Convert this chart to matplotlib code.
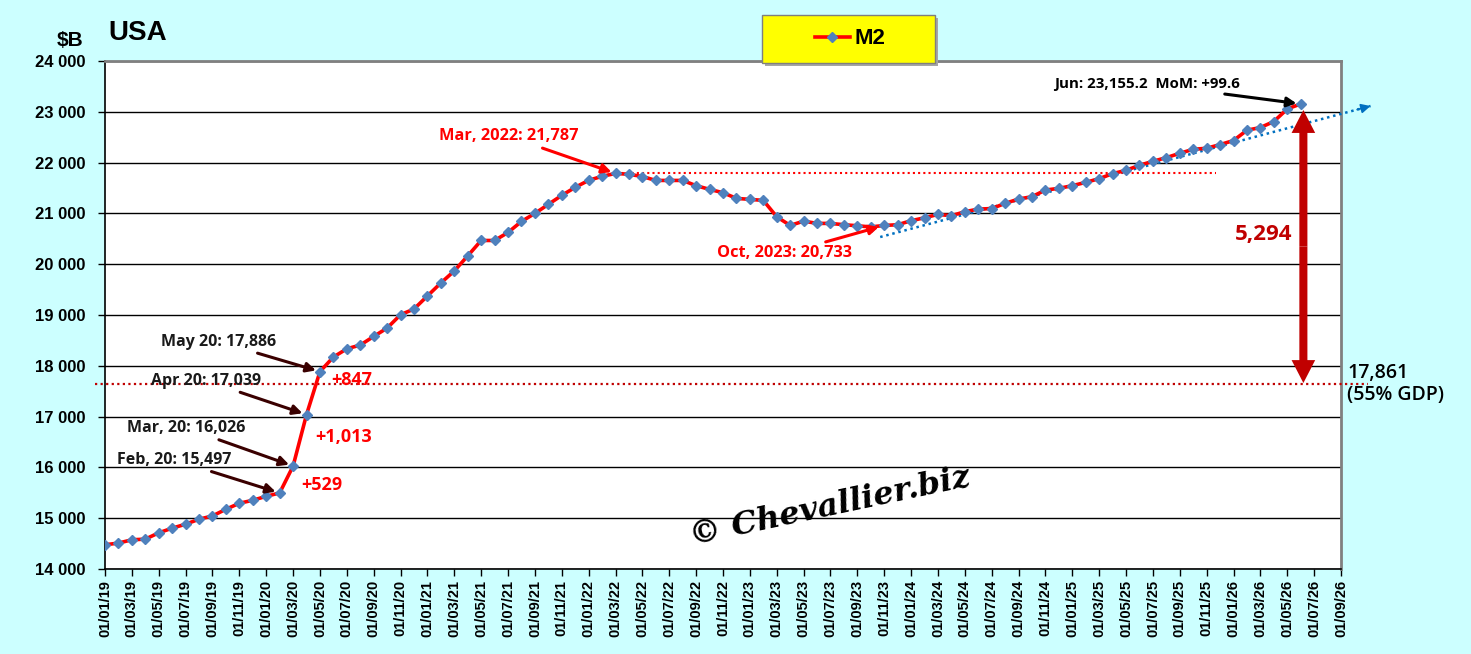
import matplotlib
matplotlib.use("Agg")
import matplotlib.pyplot as plt
from matplotlib.patches import Rectangle
from matplotlib.lines import Line2D
from matplotlib.ticker import FixedLocator, FuncFormatter

# ---------------- data (monthly M2, $B, Jan 2019 .. Jun 2026) ----------------
m2_2019 = [14477, 14510, 14575, 14588, 14712, 14804, 14882, 14980, 15045, 15176, 15294, 15353]
m2_2020 = [15431, 15497, 16026, 17039, 17886, 18172, 18335, 18408, 18578, 18743, 19006, 19118]
m2_2021 = [19375, 19631, 19868, 20164, 20467, 20467, 20625, 20842, 21000, 21178, 21355, 21513]
m2_2022 = [21651, 21730, 21787, 21770, 21726, 21649, 21649, 21649, 21546, 21473, 21407, 21296]
m2_2023 = [21276, 21256, 20934, 20763, 20848, 20803, 20803, 20777, 20757, 20733, 20763, 20777]
m2_2024 = [20856, 20914, 20980, 20954, 21033, 21085, 21095, 21197, 21283, 21329, 21460, 21493]
m2_2025 = [21546, 21611, 21684, 21783, 21848, 21947, 22026, 22098, 22183, 22262, 22282, 22355]
m2_2026 = [22434, 22638, 22690, 22809, 23055.6, 23155.2]
m2 = m2_2019 + m2_2020 + m2_2021 + m2_2022 + m2_2023 + m2_2024 + m2_2025 + m2_2026
months = list(range(len(m2)))  # 0 = Jan 2019

tick_months = list(range(0, 93, 2))
tick_labels = ["01/%02d/%02d" % (m % 12 + 1, 19 + m // 12) for m in tick_months]

peak_value = 21787
gdp55_level = 17640          # drawn level of the 55% GDP line
gap_value = 5294
trend_start = (57.7, 20535)
trend_end = (94.2, 23114)

RED = "#FF0000"
DARKRED = "#C00000"
BLUE = "#4F81BD"
TBLUE = "#0070C0"
BROWN = "#3A0000"
BG = "#CCFFFF"

ANN = ["Open Sans", "DejaVu Sans"]
AX = ["Liberation Sans", "DejaVu Sans"]

W, H = 1471, 654
fig = plt.figure(figsize=(W / 100, H / 100), dpi=100, facecolor=BG)
ax = fig.add_axes([105 / W, 1 - 569 / H, 1236 / W, 508 / H])
ax.set_facecolor("white")

ax.set_xlim(0, 92)
ax.set_ylim(14000, 24000)

# grid
ax.yaxis.set_major_locator(FixedLocator(range(14000, 24001, 1000)))
ax.grid(axis="y", color="black", linewidth=1.0)
ax.set_axisbelow(True)

# spines
ax.spines["left"].set_color("black")
ax.spines["bottom"].set_color("black")
ax.spines["left"].set_linewidth(1.2)
ax.spines["bottom"].set_linewidth(1.2)
for s in ("top", "right"):
    ax.spines[s].set_color("#808080")
    ax.spines[s].set_linewidth(2.0)

ax.yaxis.set_major_formatter(FuncFormatter(lambda v, p: "{:,}".format(int(v)).replace(",", " ")))
ax.set_xticks(tick_months)
ax.set_xticklabels(tick_labels, rotation=90, fontsize=10.5, fontweight="bold", family=AX)
for lab in ax.get_yticklabels():
    lab.set_fontsize(12)
    lab.set_fontweight("bold")
    lab.set_family(AX)
ax.tick_params(axis="y", direction="out", length=5, width=1, color="black", pad=9)
ax.tick_params(axis="x", direction="out", length=5, width=1, color="black", pad=3)

# reference lines
ax.plot([38, 82.7], [peak_value, peak_value], color=RED, linestyle=(0, (1, 1.5)), linewidth=1.5, zorder=3)
ax.plot([-0.75, 94.0], [gdp55_level, gdp55_level], color=DARKRED, linestyle=(0, (1, 1.5)),
        linewidth=1.6, zorder=3, clip_on=False)

# blue trend line with arrow head
ax.plot([trend_start[0], trend_end[0]], [trend_start[1], trend_end[1]], color=TBLUE,
        linestyle=(0, (1, 1.5)), linewidth=1.8, zorder=3, clip_on=False)
fx = trend_end[0] - 1.0
fy = trend_end[1] - (trend_end[1] - trend_start[1]) / (trend_end[0] - trend_start[0]) * 1.0
ax.annotate("", xy=trend_end, xytext=(fx, fy),
            arrowprops=dict(arrowstyle="-|>", color=TBLUE, lw=1.2, mutation_scale=14,
                            shrinkA=0, shrinkB=0), annotation_clip=False)

# main series
ax.plot(months, m2, color=RED, linewidth=2.6, marker="D", markersize=4.6,
        markerfacecolor=BLUE, markeredgecolor=BLUE, zorder=5, label="M2")

# big double arrow (gap to 55% GDP)
xa = 89.2
top_tip, bot_tip = 23035, 17661
mid = (top_tip + bot_tip) / 2
for tip in (top_tip, bot_tip):
    ax.annotate("", xy=(xa, tip), xytext=(xa, mid),
                arrowprops=dict(width=5.8, headwidth=17, headlength=16.5, color=DARKRED,
                                lw=0, shrink=0), annotation_clip=False, zorder=6)
ax.text(88.4, 20594, "{:,}".format(gap_value), color=DARKRED, fontsize=16,
        fontweight="bold", family=ANN, ha="right", va="center")

# point annotations
def note(i, text, off, color, arrow_color, size=11.5):
    ax.annotate(text, xy=(months[i], m2[i]), xytext=off, textcoords="offset pixels",
                ha="right", va="center", fontsize=size, fontweight="bold", family=ANN,
                color=color, zorder=7,
                arrowprops=dict(arrowstyle="-|>", color=arrow_color, lw=2.2,
                                mutation_scale=14, shrinkA=2, shrinkB=3))

note(16, "May 20: 17,886", (-44, 30), "#1a1a1a", BROWN)
note(15, "Apr 20: 17,039", (-46, 34), "#1a1a1a", BROWN)
note(14, "Mar, 20: 16,026", (-48, 38), "#1a1a1a", BROWN)
note(13, "Feb, 20: 15,497", (-48, 33), "#1a1a1a", BROWN)
note(38, "Mar, 2022: 21,787", (-37, 37), RED, RED, 11.8)
ax.annotate("Oct, 2023: 20,733", xy=(months[58], m2[58]), xytext=(-32, -28),
            textcoords="offset pixels", ha="right", va="center", fontsize=11.8,
            fontweight="bold", family=ANN, color=RED, zorder=7,
            arrowprops=dict(arrowstyle="-|>", color=RED, lw=2.2, mutation_scale=14,
                            shrinkA=2, shrinkB=4))
note(89, "Jun: 23,155.2  MoM: +99.6", (-61, 20), "black", "black", 10.8)

# month-on-month jumps
ax.text(16.82, 17720, "+847", color=RED, fontsize=13, fontweight="bold", family=ANN, va="center", zorder=7)
ax.text(15.63, 16598, "+1,013", color=RED, fontsize=13, fontweight="bold", family=ANN, va="center", zorder=7)
ax.text(14.59, 15654, "+529", color=RED, fontsize=13, fontweight="bold", family=ANN, va="center", zorder=7)

# 55% GDP label
ax.text(92.45, gdp55_level, "17,861\n(55% GDP)", color="black", fontsize=14, family=ANN,
        fontweight="semibold", ha="left", va="center", linespacing=1.15)

# titles
fig.text(70 / W, 1 - 40 / H, "$B", fontsize=15, fontweight="bold", family=AX, ha="center", va="center")
fig.text(108 / W, 1 - 33 / H, "USA", fontsize=20, fontweight="bold", family=AX, ha="left", va="center")

# watermark
fig.text(830 / W, 1 - 507 / H, "\u00a9 Chevallier.biz", fontsize=23, fontweight="bold",
         fontstyle="italic", family=["DejaVu Serif"], rotation=12, ha="center", va="center")

# legend box
fig.patches.append(Rectangle((765 / W, 1 - 66 / H), 173 / W, 48 / H, transform=fig.transFigure,
                             facecolor="#A6A6A6", edgecolor="none", zorder=1))
fig.patches.append(Rectangle((762 / W, 1 - 63 / H), 173 / W, 48 / H, transform=fig.transFigure,
                             facecolor="#FFFF00", edgecolor="#7F7F7F", linewidth=1, zorder=2))
h = Line2D([], [], color=RED, linewidth=2.6, marker="D", markersize=4.6,
           markerfacecolor=BLUE, markeredgecolor=BLUE)
fig.legend([h], ["M2"], loc="center", bbox_to_anchor=(850 / W, 1 - 39 / H), frameon=False,
           prop=dict(family=AX, weight="bold", size=16), handlelength=1.6, handletextpad=0.2,
           borderpad=0, borderaxespad=0)

fig.savefig("out.png", dpi=100, facecolor=BG)
